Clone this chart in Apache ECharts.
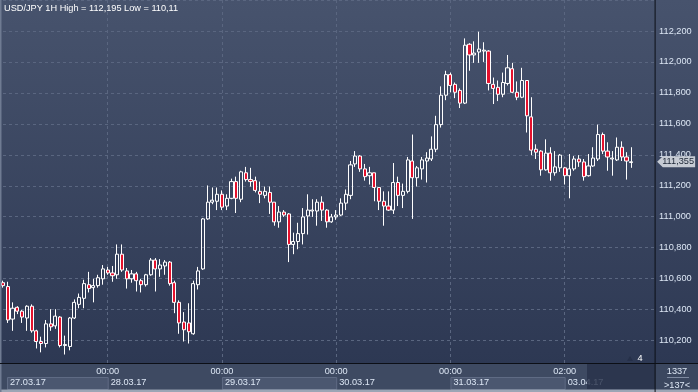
<!DOCTYPE html>
<html><head><meta charset="utf-8">
<script src="https://cdn.jsdelivr.net/npm/echarts@6/dist/echarts.min.js"></script>
<style>html,body{margin:0;padding:0;background:#2e3a54;overflow:hidden}#c{width:698px;height:392px}</style>
</head><body><div id="c"></div>
<script>
const chartTitle = 'USD/JPY 1H High = 112,195 Low = 110,11';
const dayNames = ['27.03.17','28.03.17','29.03.17','30.03.17','31.03.17','03.04.17'];
const dayFirstHour = [2,0,0,0,0,0];
const dayLastHour = [23,23,23,23,21,21];
const timeTicks = ['28.03.17 00:00','29.03.17 00:00','30.03.17 00:00','31.03.17 00:00','03.04.17 02:00'];
const dateTicks = ['27.03.17 02:00','28.03.17 00:00','29.03.17 00:00','30.03.17 00:00','31.03.17 00:00','03.04.17 02:00'];
const shadedDays = ['27.03.17','29.03.17','31.03.17'];
const lastPrice = 111.355;
const barsTotal = '1337';
const barsVisible = '>137<';
const markerText = '4';

const openP = [110.574,110.549,110.339,110.415,110.390,110.346,110.422,110.263,110.194,110.181,
110.308,110.295,110.352,110.168,110.162,110.346,110.434,110.473,110.561,110.542,
110.555,110.599,110.656,110.637,110.625,110.758,110.650,110.599,110.631,110.587,
110.561,110.625,110.720,110.663,110.682,110.707,110.574,110.447,110.320,110.314,
110.244,110.561,110.663,110.986,111.094,111.100,111.145,111.069,111.119,111.227,
111.113,111.284,111.240,111.233,111.164,111.138,111.157,111.094,110.967,111.030,
111.018,110.821,110.840,110.891,111.005,111.037,111.037,111.094,111.043,110.967,
110.999,111.011,111.088,111.138,111.341,111.392,111.309,111.265,111.284,111.189,
111.100,111.069,111.043,111.221,111.138,111.164,111.360,111.252,111.309,111.360,
111.373,111.436,111.595,111.785,111.918,111.855,111.816,111.734,112.114,112.045,
112.064,112.070,112.070,111.855,111.836,111.791,111.861,111.956,111.804,111.772,
111.880,111.645,111.436,111.424,111.303,111.411,111.284,111.316,111.316,111.265,
111.309,111.373,111.354,111.265,111.328,111.373,111.531,111.424,111.373,111.367,
111.449,111.386,111.350];
const closeP = [110.555,110.333,110.409,110.390,110.352,110.422,110.263,110.194,110.181,110.308,
110.289,110.358,110.168,110.175,110.346,110.447,110.479,110.568,110.536,110.555,
110.606,110.663,110.637,110.619,110.758,110.656,110.599,110.631,110.587,110.561,
110.625,110.720,110.663,110.688,110.707,110.568,110.447,110.314,110.270,110.257,
110.568,110.650,110.986,111.094,111.107,111.145,111.062,111.119,111.227,111.119,
111.290,111.240,111.227,111.170,111.145,111.164,111.094,110.967,111.030,111.011,
110.821,110.840,110.891,110.999,111.043,111.043,111.094,111.043,110.967,110.999,
111.011,111.088,111.145,111.335,111.392,111.309,111.259,111.284,111.189,111.100,
111.069,111.043,111.221,111.138,111.164,111.367,111.252,111.316,111.367,111.379,
111.436,111.595,111.785,111.918,111.848,111.804,111.734,112.108,112.045,112.057,
112.083,112.076,111.861,111.829,111.791,111.867,111.962,111.804,111.772,111.880,
111.652,111.430,111.417,111.303,111.411,111.284,111.322,111.398,111.265,111.309,
111.373,111.354,111.259,111.328,111.379,111.531,111.424,111.386,111.379,111.449,
111.386,111.360,111.355];
const lowP = [110.542,110.314,110.263,110.371,110.314,110.263,110.251,110.149,110.124,110.156,
110.263,110.276,110.156,110.110,110.137,110.339,110.409,110.409,110.511,110.447,
110.542,110.561,110.625,110.580,110.599,110.644,110.536,110.574,110.517,110.511,
110.549,110.619,110.517,110.612,110.625,110.555,110.377,110.244,110.194,110.181,
110.238,110.530,110.657,110.980,111.081,111.043,111.043,111.043,111.113,111.024,
111.094,111.227,111.195,111.157,111.088,111.119,111.018,110.942,110.929,110.999,
110.707,110.758,110.790,110.821,110.885,110.999,110.942,110.973,110.929,110.961,
110.980,111.005,111.043,111.113,111.322,111.290,111.233,111.208,111.100,111.043,
110.942,111.037,111.018,111.069,111.056,111.151,110.986,111.195,111.240,111.221,
111.360,111.417,111.576,111.753,111.804,111.766,111.702,111.728,111.943,111.994,
111.994,112.000,111.816,111.728,111.747,111.772,111.848,111.798,111.753,111.766,
111.544,111.398,111.373,111.265,111.297,111.233,111.265,111.290,111.208,111.119,
111.297,111.322,111.233,111.259,111.322,111.360,111.405,111.297,111.265,111.360,
111.360,111.240,111.316];
const highP = [110.587,110.580,110.447,110.422,110.397,110.428,110.434,110.270,110.225,110.333,
110.403,110.403,110.358,110.232,110.352,110.466,110.504,110.593,110.644,110.599,
110.625,110.688,110.676,110.682,110.821,110.821,110.669,110.656,110.644,110.599,
110.631,110.733,110.733,110.726,110.720,110.714,110.587,110.460,110.384,110.441,
110.587,110.676,110.992,111.202,111.189,111.189,111.170,111.145,111.246,111.259,
111.297,111.322,111.316,111.259,111.227,111.195,111.195,111.094,111.069,111.043,
111.024,110.897,110.961,111.056,111.145,111.113,111.113,111.132,111.049,111.018,
111.043,111.119,111.176,111.360,111.424,111.398,111.341,111.322,111.284,111.189,
111.164,111.164,111.347,111.259,111.214,111.386,111.531,111.328,111.386,111.417,
111.519,111.652,111.842,111.943,111.931,111.867,111.829,112.152,112.121,112.133,
112.195,112.127,112.076,111.899,111.880,111.931,112.045,111.994,111.874,111.962,
111.880,111.772,111.468,111.430,111.500,111.449,111.424,111.405,111.322,111.405,
111.392,111.398,111.373,111.405,111.449,111.595,111.544,111.481,111.424,111.512,
111.487,111.417,111.449];

const categories = [];
dayNames.forEach((d, k) => {
  for (let h = dayFirstHour[k]; h <= dayLastHour[k]; h++) {
    categories.push(d + ' ' + String(h).padStart(2, '0') + ':00');
  }
});
const candles = openP.map((o, i) => [o, closeP[i], lowP[i], highP[i]]);

const FONT = '"Liberation Sans", Arial, sans-serif';
const TXT = '#dde7f5';
const GRIDC = '#5a6680';
const fmt = v => v.toFixed(3).replace('.', ',');

const chart = echarts.init(document.getElementById('c'));
const option = {
  animation: false,
  backgroundColor: {type: 'linear', x: 0, y: 0, x2: 0, y2: 1,
    colorStops: [{offset: 0, color: '#47536d'}, {offset: 1, color: '#2b3651'}]},
  title: {text: chartTitle, left: 4, top: 4, padding: 0,
    textStyle: {color: '#ffffff', fontSize: 9.2, fontWeight: 'normal', fontFamily: FONT}},
  grid: {left: 3, top: -7.05, width: 652.1, height: 378.6},
  xAxis: [
    {type: 'category', data: categories, boundaryGap: false,
      axisLine: {show: false}, axisTick: {show: false}, axisLabel: {show: false},
      splitLine: {show: true, interval: (i, v) => timeTicks.includes(v),
        lineStyle: {color: GRIDC, type: [3, 3], width: 1}}},
    {type: 'category', data: categories, boundaryGap: false, position: 'bottom', offset: -8.5, z: 10,
      axisLine: {show: false}, axisTick: {show: false}, splitLine: {show: false},
      axisLabel: {interval: (i, v) => timeTicks.includes(v), formatter: v => v.split(' ')[1],
        color: TXT, fontSize: 9.2, fontFamily: FONT, margin: 4}},
    {type: 'category', data: categories, boundaryGap: false, position: 'bottom', offset: -8.5, z: 10,
      axisLine: {show: false}, axisTick: {show: false}, splitLine: {show: false},
      axisLabel: {interval: (i, v) => dateTicks.includes(v),
        formatter: (v, i) => i === 0 ? '{f|' + v.split(' ')[0] + '}' : '{n|' + v.split(' ')[0] + '}',
        align: 'left', color: TXT, fontSize: 9.2, fontFamily: FONT, margin: 15,
        rich: {f: {padding: [0, 0, 0, 7], color: TXT, fontSize: 9.2, fontFamily: FONT},
               n: {padding: [0, 0, 0, 3], color: TXT, fontSize: 9.2, fontFamily: FONT}}}}
  ],
  yAxis: {type: 'value', position: 'right', min: 110.0, max: 112.4, interval: 0.2,
    axisLine: {show: false}, axisTick: {show: false},
    axisLabel: {margin: 4, color: TXT, fontSize: 9.2, fontFamily: FONT,
      formatter: v => (v < 110.1 || v > 112.3) ? '' : fmt(v)},
    splitLine: {show: true, lineStyle: {color: GRIDC, type: [3, 3], width: 1}}},
  series: [{
    type: 'candlestick', data: candles, barWidth: 3.6, clip: false,
    itemStyle: {color: 'rgba(0,0,0,0)', color0: '#e5112d', borderColor: '#ffffff', borderColor0: '#ffffff', borderWidth: 1},
    markPoint: {
      symbol: 'path://M0,6L6,0L40,0L40,12L6,12Z', symbolSize: [38, 11], symbolOffset: [21, 0],
      itemStyle: {color: '#c6cbd4'},
      label: {show: true, position: 'inside', offset: [2, 0], color: '#1b2535', fontSize: 9.2, fontFamily: FONT,
        formatter: fmt(lastPrice)},
      data: [{coord: [categories.length - 1, lastPrice]}]
    }
  }]
};
chart.setOption(option);

const px = i => chart.convertToPixel({xAxisIndex: 0}, i);
const xRight = px(categories.length - 1);
const gfx = [];
gfx.push({type: 'rect', z: 5, shape: {x: 0, y: 363.5, width: xRight, height: 26}, style: {fill: '#3e4a62'}});
shadedDays.forEach(d => {
  const k = dateTicks.findIndex(t => t.startsWith(d));
  const x0 = k === 0 ? 7 : px(categories.indexOf(dateTicks[k]));
  const x1 = px(categories.indexOf(dateTicks[k + 1]));
  gfx.push({type: 'rect', z: 6, shape: {x: x0 + 0.5, y: 377.5, width: x1 - x0, height: 12},
    style: {fill: '#4b5770', stroke: '#5f6b84', lineWidth: 1}});
});
gfx.push({type: 'rect', z: 12, shape: {x: 587, y: 363.5, width: xRight - 587, height: 26}, style: {fill: 'rgba(40,50,74,0.82)'}});
gfx.push({type: 'rect', z: 5, shape: {x: xRight, y: 363.5, width: 698 - xRight, height: 29}, style: {fill: '#3b475f'}});
gfx.push({type: 'text', z: 20, x: 677, y: 371, style: {text: barsTotal, fill: TXT, fontSize: 9.2, fontFamily: FONT, align: 'center', verticalAlign: 'middle'}});
gfx.push({type: 'line', z: 20, shape: {x1: 667, y1: 377.5, x2: 689, y2: 377.5}, style: {stroke: '#7e8aa0', lineWidth: 1}});
gfx.push({type: 'text', z: 20, x: 677, y: 385, style: {text: barsVisible, fill: TXT, fontSize: 9.2, fontFamily: FONT, align: 'center', verticalAlign: 'middle'}});
gfx.push({type: 'rect', z: 20, shape: {x: 0, y: 389.5, width: 698, height: 3}, style: {fill: '#9ca5b5'}});
gfx.push({type: 'rect', z: 20, shape: {x: 0, y: 0, width: 1.5, height: 392}, style: {fill: '#6f7b92'}});
gfx.push({type: 'line', z: 20, shape: {x1: xRight, y1: 0, x2: xRight, y2: 392}, style: {stroke: '#0c0f16', lineWidth: 1}});
gfx.push({type: 'line', z: 20, shape: {x1: 0, y1: 363.5, x2: 698, y2: 363.5}, style: {stroke: '#0c0f16', lineWidth: 1}});
gfx.push({type: 'polygon', z: 20, shape: {points: [[627, 361], [633, 361], [630, 356]]}, style: {fill: '#263049'}});
gfx.push({type: 'text', z: 20, x: 640, y: 358.5, style: {text: markerText, fill: '#ffffff', fontSize: 9.2, fontFamily: FONT, align: 'center', verticalAlign: 'middle'}});
chart.setOption({graphic: gfx});
</script>
</body></html>
